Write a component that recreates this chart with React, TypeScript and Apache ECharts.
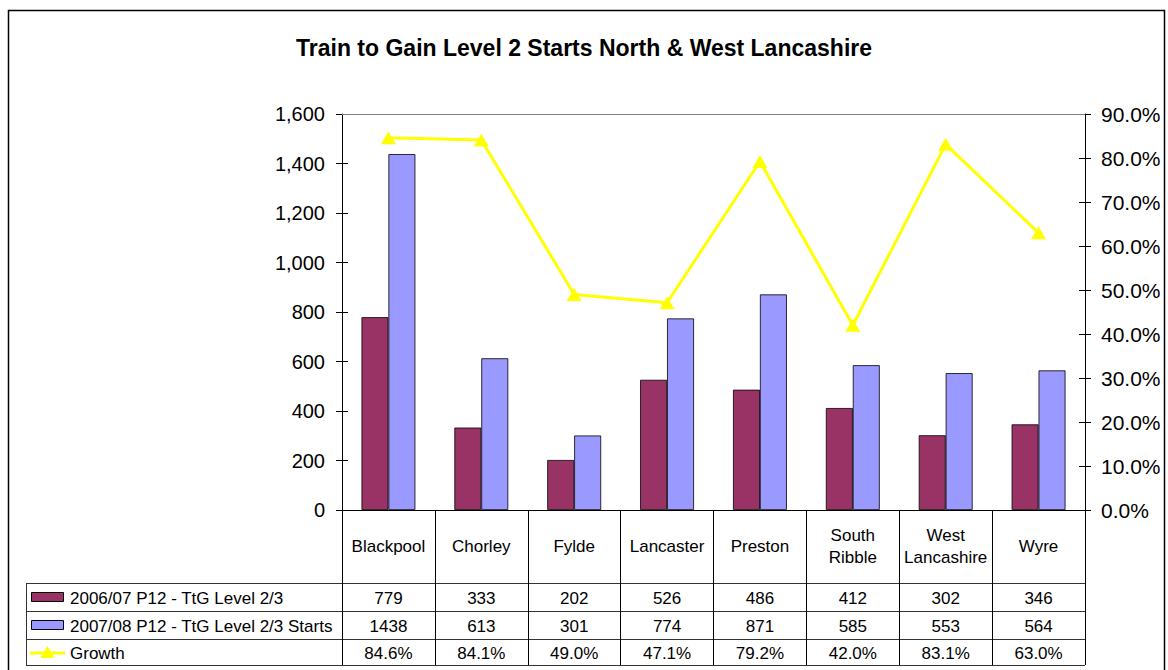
import React, { useEffect, useRef } from "react";
import * as echarts from "echarts";

const categories = ["Blackpool", "Chorley", "Fylde", "Lancaster", "Preston", "South Ribble", "West Lancashire", "Wyre"];
const categoryLabels = ["Blackpool", "Chorley", "Fylde", "Lancaster", "Preston", "South\nRibble", "West\nLancashire", "Wyre"];
const starts0607 = [779, 333, 202, 526, 486, 412, 302, 346];
const starts0708 = [1438, 613, 301, 774, 871, 585, 553, 564];
const growth = [84.6, 84.1, 49.0, 47.1, 79.2, 42.0, 83.1, 63.0];
const seriesNames = ["2006/07 P12 - TtG Level 2/3", "2007/08 P12 - TtG Level 2/3 Starts", "Growth"];
const title = "Train to Gain Level 2 Starts North & West Lancashire";

const FONT = "Arial, 'Liberation Sans', sans-serif";
const C1 = "#993366";
const C2 = "#9999FF";
const CY = "#FFFF00";

export default function App() {
  const ref = useRef<HTMLDivElement>(null);
  useEffect(() => {
    document.body.style.margin = "0";
    const chart = echarts.init(ref.current!, null, { renderer: "svg" });
    const gridLeft = 342, gridTop = 114, gridRight = 1085, gridBottom = 510;
    const leftAxisBase = { type: "value", min: 0, max: 1600, interval: 200, splitLine: { show: false } };
    const rightAxisBase = { type: "value", min: 0, max: 90, interval: 10, position: "right", splitLine: { show: false } };
    const option: any = {
      animation: false,
      backgroundColor: "#ffffff",
      textStyle: { fontFamily: FONT },
      title: {
        text: title,
        left: "center",
        top: 31,
        textStyle: { fontFamily: FONT, fontSize: 23, fontWeight: "bold", color: "#000" },
      },
      grid: { left: gridLeft, right: 1168 - gridRight, top: gridTop, bottom: 670 - gridBottom, containLabel: false },
      xAxis: {
        type: "category",
        data: categories,
        axisLine: { lineStyle: { color: "#000", width: 1 } },
        axisTick: { show: true, length: 155, lineStyle: { color: "#000" } },
        axisLabel: {
          formatter: (v: string) => categoryLabels[categories.indexOf(v)],
          fontFamily: FONT,
          fontSize: 17,
          color: "#000",
          margin: 36,
          verticalAlign: "middle",
          lineHeight: 22,
          interval: 0,
        },
      },
      yAxis: [
        {
          ...leftAxisBase,
          axisLine: { show: true, lineStyle: { color: "#000" } },
          axisTick: { show: true, length: 6, lineStyle: { color: "#000" } },
          axisLabel: {
            fontFamily: FONT,
            fontSize: 20,
            color: "#000",
            margin: 17,
            formatter: (v: number) => v.toLocaleString("en-US"),
          },
        },
        {
          ...rightAxisBase,
          axisLine: { show: true, lineStyle: { color: "#000" } },
          axisTick: { show: true, length: 6, lineStyle: { color: "#000" } },
          axisLabel: {
            fontFamily: FONT,
            fontSize: 21,
            color: "#000",
            margin: 16,
            formatter: (v: number) => v.toFixed(1) + "%",
          },
        },
        {
          ...leftAxisBase,
          position: "left",
          axisLine: { show: false },
          axisTick: { show: true, inside: true, length: 6, lineStyle: { color: "#000" } },
          axisLabel: { show: false },
        },
        {
          ...rightAxisBase,
          axisLine: { show: false },
          axisTick: { show: true, inside: true, length: 6, lineStyle: { color: "#000" } },
          axisLabel: { show: false },
        },
      ],
      series: [
        {
          name: seriesNames[0],
          type: "bar",
          data: starts0607,
          barGap: "0%",
          barCategoryGap: "42%",
          itemStyle: { color: C1, borderColor: "#000", borderWidth: 0.8 },
          markLine: {
            silent: true,
            symbol: "none",
            label: { show: false },
            lineStyle: { color: "#808080", width: 1, type: "solid" },
            data: [{ yAxis: 1600 }],
          },
        },
        {
          name: seriesNames[1],
          type: "bar",
          data: starts0708,
          barGap: "0%",
          barCategoryGap: "42%",
          itemStyle: { color: C2, borderColor: "#000", borderWidth: 0.8 },
        },
        {
          name: seriesNames[2],
          type: "line",
          yAxisIndex: 1,
          data: growth,
          symbol: "triangle",
          symbolSize: [15, 13],
          lineStyle: { color: CY, width: 3 },
          itemStyle: { color: CY },
        },
      ],
    };
    chart.setOption(option);

    // Data table below the chart
    const rowTops = [583, 611, 639, 665];
    const tableLeft = 26;
    const lineColor = "#333";
    const g: any[] = [];
    g.push({
      type: "rect",
      shape: { x: 8.5, y: 10.5, width: 1156, height: 700 },
      style: { fill: "none", stroke: "#000", lineWidth: 1.5 },
      silent: true,
    });
    rowTops.forEach((y) => {
      g.push({
        type: "line",
        shape: { x1: tableLeft, y1: y + 0.5, x2: gridRight, y2: y + 0.5 },
        style: { stroke: lineColor, lineWidth: 1 },
        silent: true,
      });
    });
    g.push({
      type: "line",
      shape: { x1: tableLeft + 0.5, y1: rowTops[0], x2: tableLeft + 0.5, y2: rowTops[3] },
      style: { stroke: lineColor, lineWidth: 1 },
      silent: true,
    });
    const rowsData = [starts0607, starts0708, growth];
    const rowFmt = [(v: number) => String(v), (v: number) => String(v), (v: number) => v.toFixed(1) + "%"];
    for (let r = 0; r < 3; r++) {
      const cy = (rowTops[r] + rowTops[r + 1]) / 2 + 1;
      if (r < 2) {
        g.push({
          type: "rect",
          shape: { x: 31.5, y: cy - 5.5, width: 32, height: 9 },
          style: { fill: r === 0 ? C1 : C2, stroke: "#000", lineWidth: 1 },
          silent: true,
        });
      } else {
        g.push({
          type: "line",
          shape: { x1: 30, y1: cy, x2: 65, y2: cy },
          style: { stroke: CY, lineWidth: 3 },
          silent: true,
        });
        g.push({
          type: "polygon",
          shape: { points: [[47.5, cy - 7], [40.5, cy + 5], [54.5, cy + 5]] },
          style: { fill: CY },
          silent: true,
        });
      }
      g.push({
        type: "text",
        x: 70,
        y: cy,
        style: { text: seriesNames[r], fontFamily: FONT, fontSize: 17, fill: "#000", verticalAlign: "middle", align: "left" },
        silent: true,
      });
      rowsData[r].forEach((v, i) => {
        const px = chart.convertToPixel({ xAxisIndex: 0 }, categories[i]) as number;
        g.push({
          type: "text",
          x: px,
          y: cy,
          style: { text: rowFmt[r](v), fontFamily: FONT, fontSize: 17, fill: "#000", verticalAlign: "middle", align: "center" },
          silent: true,
        });
      });
    }
    chart.setOption({ graphic: g });
    return () => chart.dispose();
  }, []);
  return <div ref={ref} style={{ width: 1168, height: 670 }} />;
}
